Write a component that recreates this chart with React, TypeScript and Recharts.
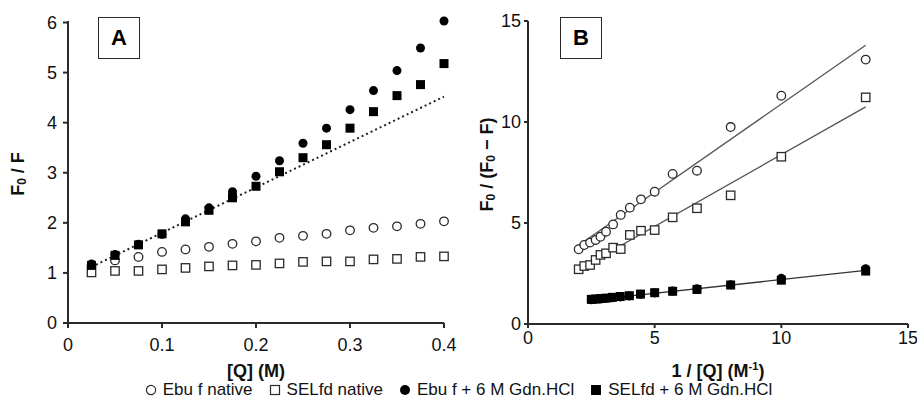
import React from "react";
import { ScatterChart, Scatter, XAxis, YAxis, Label } from "recharts";

// panel A: Stern-Volmer, [Q] in M
const Q_A = [0.025, 0.05, 0.075, 0.1, 0.125, 0.15, 0.175, 0.2, 0.225, 0.25, 0.275, 0.3, 0.325, 0.35, 0.375, 0.4];
const EBU_NATIVE_A = [1.14, 1.25, 1.32, 1.42, 1.47, 1.52, 1.58, 1.63, 1.7, 1.74, 1.78, 1.85, 1.9, 1.93, 1.98, 2.03];
const SEL_NATIVE_A = [1.01, 1.04, 1.04, 1.07, 1.1, 1.13, 1.15, 1.16, 1.19, 1.22, 1.23, 1.23, 1.27, 1.28, 1.32, 1.33];
const EBU_GDN_A = [1.18, 1.37, 1.57, 1.77, 2.08, 2.3, 2.62, 2.93, 3.24, 3.59, 3.89, 4.26, 4.64, 5.04, 5.49, 6.03];
const SEL_GDN_A = [1.15, 1.35, 1.56, 1.78, 2.02, 2.25, 2.5, 2.73, 3.02, 3.3, 3.56, 3.89, 4.22, 4.54, 4.76, 5.18];
const FIT_A_X = [0.025, 0.4];
const FIT_A_Y = [1.12, 4.52];

// panel B: modified Stern-Volmer, 1/[Q]
const INVQ_NATIVE = [2.0, 2.22, 2.45, 2.67, 2.86, 3.08, 3.36, 3.66, 4.02, 4.46, 5.0, 5.71, 6.67, 8.0, 10.0, 13.33];
const EBU_NATIVE_B = [3.7, 3.91, 4.03, 4.16, 4.32, 4.57, 4.93, 5.4, 5.76, 6.17, 6.55, 7.43, 7.59, 9.75, 11.3, 13.09];
const SEL_NATIVE_B = [2.71, 2.87, 2.92, 3.17, 3.42, 3.5, 3.78, 3.71, 4.41, 4.62, 4.65, 5.28, 5.73, 6.37, 8.28, 11.22];
const INVQ_GDN = [2.5, 2.67, 2.86, 3.08, 3.33, 3.64, 4.0, 4.44, 5.0, 5.71, 6.67, 8.0, 10.0, 13.33];
const EBU_GDN_B = [1.2, 1.22, 1.24, 1.27, 1.3, 1.34, 1.39, 1.47, 1.54, 1.63, 1.75, 1.94, 2.26, 2.74];
const SEL_GDN_B = [1.22, 1.24, 1.26, 1.28, 1.32, 1.36, 1.4, 1.48, 1.55, 1.62, 1.71, 1.93, 2.17, 2.62];
const FIT_EBU_X = [2.0, 13.33];
const FIT_EBU_Y = [3.9, 13.8];
const FIT_SEL_X = [2.0, 13.33];
const FIT_SEL_Y = [2.7, 10.75];
const FIT_GDN_X = [2.5, 13.33];
const FIT_GDN_Y = [1.18, 2.65];

const TICKS_A_X = [0, 0.1, 0.2, 0.3, 0.4];
const TICKS_A_Y = [0, 1, 2, 3, 4, 5, 6];
const TICKS_B = [0, 5, 10, 15];

const LEGEND = ["Ebu f native", "SELfd native", "Ebu f + 6 M Gdn.HCl", "SELfd + 6 M Gdn.HCl"];

const FONT = '"Liberation Sans", Arial, sans-serif';
const INK = "#2a2a2a";

const pts = (xs: number[], ys: number[]) => xs.map((x, i) => ({ x, y: ys[i] }));

const openCircle = (p: any) => <circle cx={p.cx} cy={p.cy} r={4.3} fill="#fff" stroke={INK} strokeWidth={1.3} />;
const openSquare = (p: any) => <rect x={p.cx - 4.2} y={p.cy - 4.2} width={8.4} height={8.4} fill="#fff" stroke={INK} strokeWidth={1.3} />;
const filledCircle = (p: any) => <circle cx={p.cx} cy={p.cy} r={4.5} fill="#000" />;
const filledSquare = (p: any) => <rect x={p.cx - 4.5} y={p.cy - 4.5} width={9} height={9} fill="#000" />;
const noDot = () => <g />;

const tickStyle = { fill: "#111", fontSize: 18, fontFamily: FONT };
const axisLine = { stroke: INK, strokeWidth: 2 };

function PanelBox({ left, letter }: { left: number; letter: string }) {
  return (
    <div
      style={{
        position: "absolute",
        left,
        top: 17,
        width: 40,
        height: 40,
        border: `1.5px solid ${INK}`,
        display: "flex",
        alignItems: "center",
        justifyContent: "center",
        fontFamily: FONT,
        fontWeight: 700,
        fontSize: 22,
        background: "#fff",
      }}
    >
      {letter}
    </div>
  );
}

function LegendMark({ kind }: { kind: number }) {
  return (
    <svg width={12} height={12} style={{ marginRight: 6, verticalAlign: "-1px" }}>
      {kind === 0 && <circle cx={6} cy={6} r={4.6} fill="#fff" stroke={INK} strokeWidth={1.2} />}
      {kind === 1 && <rect x={1.5} y={1.5} width={9} height={9} fill="#fff" stroke={INK} strokeWidth={1.2} />}
      {kind === 2 && <circle cx={6} cy={6} r={5} fill="#000" />}
      {kind === 3 && <rect x={1} y={1} width={10} height={10} fill="#000" />}
    </svg>
  );
}

export default function App() {
  return (
    <div style={{ position: "absolute", left: 0, top: 0, width: 917, height: 415, background: "#fff", overflow: "hidden" }}>
      <div style={{ position: "absolute", left: 0, top: 0 }}>
        <ScatterChart width={460} height={385} margin={{ top: 21, right: 16, left: 28, bottom: 32 }}>
          <XAxis
            type="number"
            dataKey="x"
            domain={[0, 0.4]}
            ticks={TICKS_A_X}
            height={30}
            tick={tickStyle}
            tickSize={5}
            tickMargin={10}
            axisLine={axisLine}
            tickLine={axisLine}
          >
            <Label
              content={(props: any) => {
                const vb = props.viewBox;
                return (
                  <text x={vb.x + vb.width / 2} y={vb.y + 54} textAnchor="middle" fontFamily={FONT} fontWeight={700} fontSize={18} fill="#111">
                    [Q] (M)
                  </text>
                );
              }}
            />
          </XAxis>
          <YAxis
            type="number"
            dataKey="y"
            domain={[0, 6]}
            ticks={TICKS_A_Y}
            width={40}
            tick={tickStyle}
            tickSize={5}
            tickMargin={6}
            axisLine={axisLine}
            tickLine={axisLine}
          >
            <Label
              content={(props: any) => {
                const vb = props.viewBox;
                const cx = vb.x - 10;
                const cy = vb.y + vb.height / 2 + 2;
                return (
                  <text x={cx} y={cy} transform={`rotate(-90 ${cx} ${cy})`} textAnchor="middle" dominantBaseline="central" fontFamily={FONT} fontWeight={700} fontSize={18} fill="#111">
                    F<tspan dy={4} fontSize={12}>0</tspan>
                    <tspan dy={-4}> / F</tspan>
                  </text>
                );
              }}
            />
          </YAxis>
          <Scatter data={pts(FIT_A_X, FIT_A_Y)} line={{ stroke: "#222", strokeWidth: 2, strokeDasharray: "2 3" }} shape={noDot} isAnimationActive={false} />
          <Scatter data={pts(Q_A, EBU_NATIVE_A)} shape={openCircle} isAnimationActive={false} />
          <Scatter data={pts(Q_A, SEL_NATIVE_A)} shape={openSquare} isAnimationActive={false} />
          <Scatter data={pts(Q_A, EBU_GDN_A)} shape={filledCircle} isAnimationActive={false} />
          <Scatter data={pts(Q_A, SEL_GDN_A)} shape={filledSquare} isAnimationActive={false} />
        </ScatterChart>
      </div>

      <div style={{ position: "absolute", left: 460, top: 0 }}>
        <ScatterChart width={457} height={385} margin={{ top: 21, right: 9, left: 28, bottom: 31 }}>
          <XAxis
            type="number"
            dataKey="x"
            domain={[0, 15]}
            ticks={TICKS_B}
            height={30}
            tick={tickStyle}
            tickSize={4}
            tickMargin={3}
            axisLine={axisLine}
            tickLine={axisLine}
          >
            <Label
              content={(props: any) => {
                const vb = props.viewBox;
                return (
                  <text x={vb.x + vb.width / 2} y={vb.y + 53} textAnchor="middle" fontFamily={FONT} fontWeight={700} fontSize={18} fill="#111">
                    1 / [Q] (M<tspan dy={-7} fontSize={11}>-1</tspan>
                    <tspan dy={7}>)</tspan>
                  </text>
                );
              }}
            />
          </XAxis>
          <YAxis
            type="number"
            dataKey="y"
            domain={[0, 15]}
            ticks={TICKS_B}
            width={40}
            tick={tickStyle}
            tickSize={4}
            tickMargin={3}
            axisLine={axisLine}
            tickLine={axisLine}
          >
            <Label
              content={(props: any) => {
                const vb = props.viewBox;
                const cx = vb.x - 1;
                const cy = vb.y + vb.height / 2 - 8;
                return (
                  <text x={cx} y={cy} transform={`rotate(-90 ${cx} ${cy})`} textAnchor="middle" dominantBaseline="central" fontFamily={FONT} fontWeight={700} fontSize={18} fill="#111">
                    F<tspan dy={4} fontSize={12}>0</tspan>
                    <tspan dy={-4}> / (F</tspan>
                    <tspan dy={4} fontSize={12}>0</tspan>
                    <tspan dy={-4}> − F)</tspan>
                  </text>
                );
              }}
            />
          </YAxis>
          <Scatter data={pts(FIT_EBU_X, FIT_EBU_Y)} line={{ stroke: "#555", strokeWidth: 1.3 }} shape={noDot} isAnimationActive={false} />
          <Scatter data={pts(FIT_SEL_X, FIT_SEL_Y)} line={{ stroke: "#555", strokeWidth: 1.3 }} shape={noDot} isAnimationActive={false} />
          <Scatter data={pts(FIT_GDN_X, FIT_GDN_Y)} line={{ stroke: "#333", strokeWidth: 1.3 }} shape={noDot} isAnimationActive={false} />
          <Scatter data={pts(INVQ_NATIVE, EBU_NATIVE_B)} shape={openCircle} isAnimationActive={false} />
          <Scatter data={pts(INVQ_NATIVE, SEL_NATIVE_B)} shape={openSquare} isAnimationActive={false} />
          <Scatter data={pts(INVQ_GDN, EBU_GDN_B)} shape={filledCircle} isAnimationActive={false} />
          <Scatter data={pts(INVQ_GDN, SEL_GDN_B)} shape={filledSquare} isAnimationActive={false} />
        </ScatterChart>
      </div>

      <PanelBox left={98} letter="A" />
      <PanelBox left={560} letter="B" />

      <div
        style={{
          position: "absolute",
          left: 0,
          top: 380,
          width: 917,
          textAlign: "center",
          fontFamily: FONT,
          fontSize: 17,
          color: "#111",
          whiteSpace: "nowrap",
        }}
      >
        {LEGEND.map((name, i) => (
          <span key={name} style={{ marginRight: i < LEGEND.length - 1 ? 16 : 0 }}>
            <LegendMark kind={i} />
            {name}
          </span>
        ))}
      </div>
    </div>
  );
}
